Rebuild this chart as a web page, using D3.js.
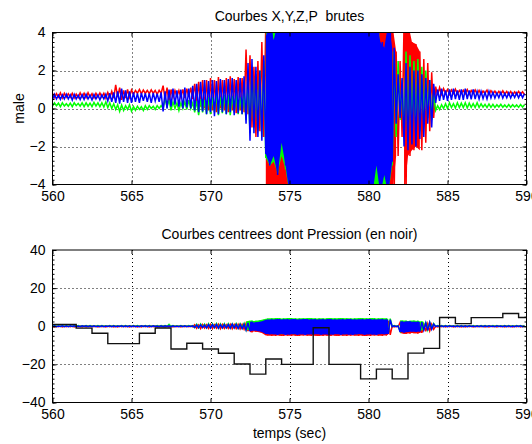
<!DOCTYPE html>
<html>
<head>
<meta charset="utf-8">
<script src="https://cdn.jsdelivr.net/npm/d3@7"></script>
<style>
  body { margin: 0; background: #fff; }
  svg { display: block; }
  text { font-family: "Liberation Sans", Arial, Helvetica, sans-serif; font-size: 14px; fill: #000; }
</style>
</head>
<body>
<svg id="chart"></svg>
<script>
// signals are given as min/max envelopes per 0.25 s bin, starting at 560 s
const binStart = 560;
const binStep = 0.25;

const xTicks = [560, 565, 570, 575, 580, 585, 590];
const topYTicks = [-4, -2, 0, 2, 4];
const bottomYTicks = [-40, -20, 0, 20, 40];

// --- top panel : raw X (red), Y (green), Z (blue)
const redLo = [
  0.58,0.6,0.55,0.6, 0.6,0.55,0.58,0.6, 0.57,0.6,0.56,0.6, 0.6,0.55,0.58,0.55, 0.6,0.45,0.55,0.6,
  0.75,0.8,0.78,0.8, 0.78,0.8,0.75,0.8, 0.5,0.3,0.6,0.65, 0.6,0.55,0.6,0.5, 0.3,0.1,0,-0.1,
  -0.1,-0.2,0,-0.1, -0.2,-0.1,-0.25,-0.1, -0.2,-0.3,-1,-1.5, -1.2,-1.5,-4.5,-4.5, -4.5,-4.5,-4.5,-4.5,
  -4.5,-4.5,-4.5,-4.5, -4.5,-4.5,-4.5,-4.5, -4.5,-4.5,-4.5,-4.5, -4.5,-4.5,-4.5,-4.5, -4.5,-4.5,-4.5,-4.5,
  -4.5,-4.5,-4.5,-4.5, -4.5,-4.5,-4.5,-2.5, -1.5,-4.5,-2.5,-2.2, -2,-2.2,-1.8,-1.2, -0.5,0.7,0.75,0.8,
  0.75,0.8,0.76,0.8, 0.78,0.75,0.8,0.76, 0.75,0.8,0.74,0.78, 0.74,0.76,0.75,0.73, 0.72,0.74,0.75,0.73
];
const redHi = [
  0.8,0.78,0.82,0.8, 0.78,0.8,0.76,0.82, 0.8,0.83,0.78,0.8, 0.82,0.8,0.85,0.9, 1.25,1.1,0.95,1,
  0.98,0.95,1,0.97, 0.95,0.98,0.95,0.96, 1.2,1.1,1,0.95, 0.95,1,1.05,1.1, 1.3,1.4,1.5,1.5,
  1.6,1.5,1.65,1.5, 1.6,1.7,1.55,1.65, 1.6,3.1,2.8,2.2, 2.5,3.5,4.5,4.5, 4.5,4.5,4.5,4.5,
  4.5,4.5,4.5,4.5, 4.5,4.5,4.5,4.5, 4.5,4.5,4.5,4.5, 4.5,4.5,4.5,4.5, 4.5,4.5,4.5,4.5,
  4.5,4.5,4.5,4.5, 4.5,4.5,4.5,3, 2.5,4.5,4.5,3.5, 3.4,3,2.6,2.4, 1.9,1.15,1.1,1.05,
  1,0.98,1.02,0.95, 0.96,1,0.95,0.98, 0.95,0.92,0.97,0.94, 0.92,0.9,0.93,0.9, 0.9,0.88,0.9,0.88
];
const greenLo = [
  0.12,0.15,0.1,0.13, 0.12,0.1,0.15,0.12, 0.1,0.12,0.1,0.13, 0.1,0.08,0.05,0, -0.05,-0.15,-0.1,-0.05,
  -0.15,-0.1,-0.05,-0.1, -0.05,0,-0.05,0, 0,0.1,-0.1,0, -0.1,0,-0.05,0, -0.2,-0.35,-0.2,-0.3,
  -0.3,-0.2,-0.35,-0.25, -0.3,-0.35,-0.2,-0.3, -0.3,-0.6,-1.3,-1, -1.2,-1.5,-2.6,-3, -2.8,-3.4,-2.5,-3.2,
  -4.5,-4.5,-4.5,-4.5, -4.5,-4.5,-4.5,-4.5, -4.5,-4.5,-4.5,-4.5, -4.5,-4.5,-4.5,-4.5, -4.5,-4.5,-4.5,-4.5,
  -4.5,-4.5,-4.5,-4.5, -4.5,-4.5,-3,-1.5, -0.6,-1.5,-1.8,-1.2, -1.5,-1.2,-0.8,-0.5, -0.6,-0.1,-0.05,0,
  0,0.05,0.02,0.05, 0.05,0.03,0.06,0.05, 0.05,0.07,0.05,0.06, 0.06,0.08,0.07,0.06, 0.07,0.08,0.06,0.08
];
const greenHi = [
  0.3,0.28,0.3,0.25, 0.28,0.3,0.27,0.3, 0.3,0.28,0.32,0.3, 0.3,0.35,0.3,0.25, 0.2,0.18,0.15,0.2,
  0.1,0.12,0.1,0.15, 0.15,0.12,0.15,0.15, 0.5,0.45,0.35,0.3, 0.3,0.35,0.44,0.3, 0.4,0.5,0.45,0.6,
  0.6,0.74,0.6,0.7, 0.7,0.65,0.74,0.6, 0.8,1.5,2.2,1.8, 2,2.5,4.5,4.5, 4.5,4.5,4.5,4.5,
  4.5,4.5,4.5,4.5, 4.5,4.5,4.5,4.5, 4.5,4.5,4.5,4.5, 4.5,4.5,4.5,4.5, 4.5,4.5,4.5,4.5,
  4.5,4.5,4.5,3.2, 3,3.5,3,2.5, 1.5,3,2.8,2.5, 2.6,2.2,2,1.5, 0.8,0.15,0.2,0.25,
  0.3,0.25,0.3,0.28, 0.3,0.28,0.26,0.3, 0.25,0.22,0.24,0.22, 0.2,0.22,0.19,0.21, 0.2,0.19,0.21,0.2
];
const blueLo = [
  0.45,0.5,0.48,0.5, 0.5,0.45,0.5,0.47, 0.48,0.5,0.45,0.5, 0.45,0.5,0.4,0.35, 0.3,0.26,0.35,0.3,
  0.3,0.35,0.3,0.4, 0.35,0.3,0.4,0.35, -0.15,0,0.1,0.2, 0.1,0,0.05,0, -0.1,-0.2,-0.15,-0.3,
  -0.2,-0.4,-0.3,-0.2, -0.3,-0.2,-0.35,-0.25, -0.3,-0.8,-1.7,-1.3, -1.5,-1.7,-2.4,-3, -2.5,-3.5,-1.8,-3,
  -4.5,-4.5,-4.5,-4.5, -4.5,-4.5,-4.5,-4.5, -4.5,-4.5,-4.5,-4.5, -4.5,-4.5,-4.5,-4.5, -4.5,-4.5,-4.5,-4.5,
  -4.5,-4.5,-3,-4.5, -3.5,-4.5,-2.8,-0.8, -0.5,-2,-2.2,-1.9, -2,-1.6,-1.5,-0.8, -1,0.3,0.4,0.45,
  0.4,0.45,0.5,0.45, 0.45,0.5,0.48,0.5, 0.5,0.52,0.5,0.55, 0.55,0.57,0.55,0.56, 0.55,0.58,0.56,0.57
];
const blueHi = [
  0.75,0.7,0.72,0.75, 0.72,0.75,0.7,0.73, 0.75,0.7,0.74,0.72, 0.72,0.75,0.8,0.85, 0.9,1.05,0.95,0.9,
  0.85,0.8,0.82,0.8, 0.8,0.82,0.78,0.85, 0.9,1,1.05,0.95, 1,1.1,1.05,1.2, 1.3,1.4,1.5,1.45,
  1.5,1.45,1.55,1.5, 1.55,1.6,1.5,1.6, 1.7,2.4,2.6,2.2, 2,2.8,3.8,4.5, 3.6,4.5,4.5,4.5,
  4.5,4.5,4.5,4.5, 4.5,4.5,4.5,4.5, 4.5,4.5,4.5,4.5, 4.5,4.5,4.5,4.5, 4.5,4.5,4.5,4.5,
  4.5,4.5,4.5,3.5, 3.2,4.5,3.2,1.8, 1.6,2.4,2.2,2, 2,1.8,1.6,1.5, 1.3,1,1.05,0.95,
  1,1.05,0.95,1, 1.05,0.95,1,0.9, 0.9,0.85,0.9,0.85, 0.82,0.85,0.8,0.82, 0.8,0.82,0.8,0.78
];

// --- bottom panel : centred X, Y, Z
const cRedLo = [
  -0.3,-0.25,-0.3,-0.2, -0.25,-0.3,-0.2,-0.3, -0.3,-0.2,-0.25,-0.3, -0.2,-0.3,-0.25,-0.3, -0.3,-0.25,-0.2,-0.3,
  -0.25,-0.3,-0.3,-0.2, -0.3,-0.25,-0.3,-0.2, -0.3,-0.2,-0.3,-0.25, -0.3,-0.25,-0.2,-0.3, -1,-1.2,-0.9,-1.1,
  -1.2,-1,-1.3,-1.1, -1.1,-1.3,-1.2,-1.4, -1.5,-2.5,-3.2,-2.8, -3,-3.5,-4.8,-5, -5,-4.8,-5.1,-4.9,
  -5,-4.9,-5.1,-4.8, -4.9,-5,-4.8,-5.1, -5,-4.9,-5,-4.8, -5.1,-4.9,-5,-4.9, -4.8,-5,-4.9,-5.1,
  -5,-4.8,-4.9,-5, -4.9,-4.5,-0.3,-0.3, -3.5,-4,-3.8,-3.6, -3.8,-3.5,-2.6,-2.4, -1.6,-0.3,-0.25,-0.3,
  -0.25,-0.3,-0.2,-0.3, -0.3,-0.25,-0.3,-0.2, -0.25,-0.3,-0.3,-0.25, -0.3,-0.2,-0.3,-0.25, -0.3,-0.25,-0.3,-0.2
];
const cRedHi = [
  0.1,0.15,0.1,0.1, 0.15,0.1,0.1,0.15, 0.1,0.1,0.15,0.1, 0.1,0.15,0.1,0.1, 0.15,0.1,0.1,0.15,
  0.1,0.1,0.15,0.1, 0.1,0.15,0.1,0.1, 0.15,0.1,0.1,0.15, 0.1,0.15,0.1,0.1, 0.8,0.7,0.9,0.8,
  0.9,0.8,1,0.9, 0.8,1,0.9,1, 1,1.5,2,1.8, 2,2.2,3,3, 3,2.8,3.1,3,
  2.9,3,3.1,2.8, 3,2.9,3,3.1, 2.8,3,2.9,3, 3.1,3,2.9,3, 3,2.8,3,3.1,
  3,2.9,3,2.8, 3,2.8,0.1,0.1, 2,2.2,2,1.8, 2,1.8,1.5,1.4, 1,0.1,0.15,0.1,
  0.1,0.15,0.1,0.1, 0.15,0.1,0.1,0.15, 0.1,0.1,0.15,0.1, 0.1,0.15,0.1,0.1, 0.15,0.1,0.1,0.15
];
const cGreenLo = [
  -0.1,-0.15,-0.1,-0.1, -0.15,-0.1,-0.1,-0.15, -0.1,-0.1,-0.15,-0.1, -0.1,-0.15,-0.1,-0.1, -0.15,-0.1,-0.1,-0.15,
  -0.1,-0.1,-0.15,-0.1, -0.1,-0.15,-0.1,-0.1, -0.15,-0.1,-0.1,-0.15, -0.1,-0.15,-0.1,-0.1, -0.7,-0.8,-0.6,-0.8,
  -0.8,-0.7,-0.9,-0.8, -0.8,-0.9,-0.8,-1, -1,-1.8,-2.2,-2, -2,-2.5,-3.6,-4, -4,-3.9,-4.1,-4,
  -4,-4.1,-3.9,-4, -4.1,-4,-3.9,-4, -4,-3.9,-4.1,-4, -3.9,-4,-4.1,-4, -4,-4.1,-4,-3.9,
  -4,-3.9,-4.1,-4, -4,-3.8,-0.1,-0.1, -2.5,-2.8,-2.6,-2.4, -2.6,-2.4,-2,-1.8, -1.2,-0.1,-0.1,-0.1,
  -0.1,-0.15,-0.1,-0.1, -0.15,-0.1,-0.1,-0.15, -0.1,-0.1,-0.15,-0.1, -0.1,-0.15,-0.1,-0.1, -0.15,-0.1,-0.1,-0.15
];
const cGreenHi = [
  0.3,0.25,0.3,0.3, 0.25,0.3,0.3,0.25, 0.3,0.3,0.25,0.3, 0.3,0.25,0.3,0.3, 0.25,0.3,0.3,0.25,
  0.3,0.3,0.25,0.3, 0.3,0.25,0.3,0.3, 0.3,1,0.3,0.25, 0.3,0.25,0.3,0.3, 1,1.2,1.1,1.3,
  1.2,1.4,1.2,1.3, 1.3,1.2,1.4,1.3, 1.5,2.5,3,2.8, 3,3.4,4,4.2, 4.2,4.3,4.1,4.2,
  4.3,4.2,4.1,4.2, 4.2,4.3,4.2,4.1, 4.2,4.1,4.3,4.2, 4.2,4.3,4.2,4.2, 4.1,4.2,4.3,4.2,
  4.2,4.3,4.1,4.2, 4.2,4,0.3,0.3, 3,3,2.8,3, 2.9,2.6,2.3,2, 1.4,0.3,0.3,0.3,
  0.3,0.25,0.3,0.3, 0.25,0.3,0.3,0.25, 0.3,0.3,0.25,0.3, 0.3,0.25,0.3,0.3, 0.25,0.3,0.3,0.25
];
const cBlueLo = [
  -0.2,-0.2,-0.15,-0.2, -0.2,-0.15,-0.2,-0.2, -0.15,-0.2,-0.2,-0.2, -0.2,-0.2,-0.15,-0.2, -0.2,-0.15,-0.2,-0.2,
  -0.2,-0.2,-0.2,-0.15, -0.2,-0.2,-0.15,-0.2, -0.2,-0.15,-0.2,-0.2, -0.2,-0.2,-0.2,-0.15, -0.6,-0.8,-0.7,-0.9,
  -0.9,-0.7,-1,-0.8, -0.8,-1,-0.9,-1.1, -1.2,-2,-2.6,-2.2, -2.5,-3,-4,-4.2, -4.2,-4.4,-4,-4.5,
  -4.3,-4.1,-4.4,-4.2, -4.5,-4.2,-4.3,-4.1, -4.4,-4.2,-4.5,-4.3, -4.1,-4.4,-4.2,-4.3, -4.5,-4.2,-4.1,-4.4,
  -4.2,-4.3,-4.4,-4.1, -4.2,-4,-0.2,-0.2, -3,-3.3,-3,-2.8, -3,-2.8,-2,-2.2, -1.5,-0.2,-0.2,-0.2,
  -0.2,-0.15,-0.2,-0.2, -0.2,-0.2,-0.15,-0.2, -0.2,-0.2,-0.2,-0.15, -0.2,-0.15,-0.2,-0.2, -0.2,-0.2,-0.15,-0.2
];
const cBlueHi = [
  0.2,0.15,0.2,0.2, 0.2,0.2,0.15,0.2, 0.2,0.2,0.2,0.15, 0.2,0.15,0.2,0.2, 0.15,0.2,0.2,0.2,
  0.2,0.15,0.2,0.2, 0.2,0.2,0.15,0.2, 0.2,0.2,0.2,0.15, 0.2,0.2,0.15,0.2, 0.7,0.8,0.6,0.9,
  0.9,1,0.8,0.9, 0.9,1.1,1,0.9, 1,1.8,2.4,2, 2.2,2.6,3.4,3.6, 3.5,3.8,3.6,3.7,
  3.6,3.8,3.5,3.7, 3.8,3.6,3.7,3.5, 3.7,3.6,3.8,3.6, 3.5,3.7,3.6,3.8, 3.6,3.5,3.7,3.6,
  3.8,3.6,3.5,3.7, 3.6,3.4,0.2,0.2, 2.5,2.4,2.6,2.3, 2.4,2.2,1.8,2, 1.2,0.2,0.2,0.2,
  0.2,0.15,0.2,0.2, 0.2,0.2,0.15,0.2, 0.2,0.2,0.2,0.15, 0.2,0.15,0.2,0.2, 0.15,0.2,0.2,0.2
];

// pressure (black), piecewise constant : value held from each time until the next
const pressureTime = [560, 561.5, 562.5, 563.5, 564.5, 565.5, 566.5, 567.5, 568.5, 569.5, 570.5, 571.5,
  572.5, 573.5, 574.5, 575.5, 576.5, 577.5, 578.5, 579.5, 580.5, 581.5, 582.5, 583.5, 584.5, 585.5,
  586.5, 587.5, 588.5, 589.5, 590];
const pressureValue = [1, -1, -3.7, -9.1, -9.1, -3.7, -0.9, -11.9, -8.9, -11.9, -14.2, -19.8,
  -25.1, -17.2, -20, -20, -0.8, -20, -20, -27.6, -22.5, -27.6, -14.1, -11.6, 4.6, 1.4,
  4.5, 4.5, 6.7, 4.6, 4.6];

// constants
const width = 532;
const height = 444;
const left = 52.5, right = 526.5;
const font = '"Liberation Sans", Arial, Helvetica, sans-serif';

const svg = d3.select('#chart')
  .attr('width', width)
  .attr('height', height);

const x = d3.scaleLinear().domain([560, 590]).range([left, right]);

// envelope rows : one per bin
function bins(lo, hi) {
  return lo.map((v, i) => ({ t: binStart + i * binStep, lo: v, hi: hi[i] }));
}

// zig-zag through each bin, low then high (or high then low)
function zigzag(rows, flip) {
  const pts = [];
  rows.forEach(r => {
    pts.push([r.t, flip ? r.hi : r.lo]);
    pts.push([r.t + binStep / 2, flip ? r.lo : r.hi]);
  });
  return pts;
}

function drawPanel(id, top, h, yDomain, yTicks, yMinorStep, fillMin, series, steps, title) {
  const y = d3.scaleLinear().domain(yDomain).range([top + h, top]);
  const g = svg.append('g');

  g.append('clipPath').attr('id', 'clip-' + id)
    .append('rect')
    .attr('x', left).attr('y', top)
    .attr('width', right - left).attr('height', h);

  // dotted grid
  const grid = g.append('g').attr('stroke', '#000').attr('stroke-width', 1)
    .attr('stroke-dasharray', '1,3');
  grid.selectAll('.gx')
    .data(xTicks.slice(1, -1))
    .enter().append('line')
    .attr('x1', d => Math.round(x(d)) + 0.5).attr('x2', d => Math.round(x(d)) + 0.5)
    .attr('y1', top).attr('y2', top + h);
  grid.selectAll('.gy')
    .data(yTicks.slice(1, -1))
    .enter().append('line')
    .attr('x1', left).attr('x2', right)
    .attr('y1', d => Math.round(y(d)) + 0.5).attr('y2', d => Math.round(y(d)) + 0.5);

  // signals, red then green then blue : zig-zag through the envelope,
  // and where the trace is so dense that it saturates, the envelope is filled
  const area = d3.area()
    .defined(d => d.hi - d.lo > fillMin)
    .x(d => x(d.t)).y0(d => y(d.lo)).y1(d => y(d.hi));
  const line = d3.line().x(d => x(d[0])).y(d => y(d[1]));
  const plot = g.append('g').attr('clip-path', 'url(#clip-' + id + ')');
  series.forEach(s => {
    const rows = bins(s.lo, s.hi);
    plot.append('path')
      .attr('d', area(rows))
      .attr('fill', s.color);
    plot.append('path')
      .attr('d', line(zigzag(rows, s.flip)))
      .attr('fill', 'none')
      .attr('stroke', s.color)
      .attr('stroke-width', 1.5);
  });

  // step curves (pressure)
  steps.forEach(s => {
    plot.append('path')
      .attr('d', d3.line().curve(d3.curveStepAfter)
        .x(d => x(d[0])).y(d => y(d[1]))(s.time.map((t, i) => [t, s.value[i]])))
      .attr('fill', 'none')
      .attr('stroke', s.color)
      .attr('stroke-width', 1.4);
  });

  // axes, ticks pointing inwards
  const fontAttr = sel => sel.attr('font-size', 14).attr('font-family', font);

  g.append('g')
    .attr('transform', `translate(0,${top + h})`)
    .call(d3.axisBottom(x).tickValues(xTicks).tickSizeInner(-4).tickSizeOuter(0).tickPadding(6.3))
    .call(fontAttr);
  g.append('g')
    .attr('transform', `translate(0,${top})`)
    .call(d3.axisTop(x).tickValues(xTicks).tickSizeInner(-4).tickSizeOuter(0).tickFormat(''));
  g.append('g')
    .attr('transform', `translate(${left},0)`)
    .call(d3.axisLeft(y).tickValues(yTicks).tickSizeInner(-4).tickSizeOuter(0).tickPadding(7))
    .call(fontAttr);
  g.append('g')
    .attr('transform', `translate(${right},0)`)
    .call(d3.axisRight(y).tickValues(yTicks).tickSizeInner(-4).tickSizeOuter(0).tickFormat(''));

  // minor ticks on y
  const minor = d3.range(yDomain[0], yDomain[1] + 1e-9, yMinorStep);
  g.append('g')
    .attr('transform', `translate(${left},0)`)
    .call(d3.axisLeft(y).tickValues(minor).tickSizeInner(-2).tickSizeOuter(0).tickFormat(''));
  g.append('g')
    .attr('transform', `translate(${right},0)`)
    .call(d3.axisRight(y).tickValues(minor).tickSizeInner(-2).tickSizeOuter(0).tickFormat(''));

  g.selectAll('.domain').remove();

  // box
  g.append('rect')
    .attr('x', left).attr('y', top)
    .attr('width', right - left).attr('height', h)
    .attr('fill', 'none')
    .attr('stroke', '#000')
    .attr('stroke-width', 1);

  g.append('text')
    .attr('x', (left + right) / 2)
    .attr('y', top - 11.5)
    .attr('text-anchor', 'middle')
    .style('white-space', 'pre')
    .text(title);
}

drawPanel('top', 32.5, 152, [-4, 4], topYTicks, 0.25, 5, [
  { lo: redLo, hi: redHi, color: '#ff0000', flip: true },
  { lo: greenLo, hi: greenHi, color: '#00ff00', flip: false },
  { lo: blueLo, hi: blueHi, color: '#0000ff', flip: false },
], [], 'Courbes X,Y,Z,P  brutes');

drawPanel('bottom', 250, 152.5, [-40, 40], bottomYTicks, 2.5, 4, [
  { lo: cRedLo, hi: cRedHi, color: '#ff0000', flip: true },
  { lo: cGreenLo, hi: cGreenHi, color: '#00ff00', flip: false },
  { lo: cBlueLo, hi: cBlueHi, color: '#0000ff', flip: false },
], [
  { time: pressureTime, value: pressureValue, color: '#111' },
], 'Courbes centrees dont Pression (en noir)');

// axis labels
svg.append('text')
  .attr('x', (left + right) / 2)
  .attr('y', 438)
  .attr('text-anchor', 'middle')
  .text('temps (sec)');

svg.append('text')
  .attr('transform', 'translate(23.5,108.5) rotate(-90)')
  .attr('text-anchor', 'middle')
  .text('male');
</script>
</body>
</html>
